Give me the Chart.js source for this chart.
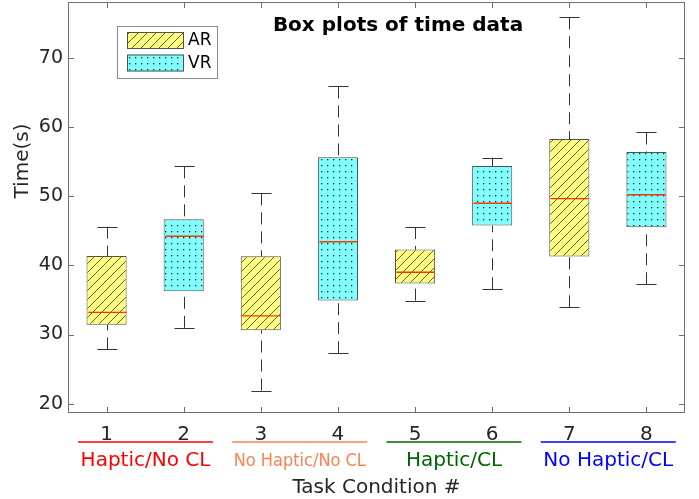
<!DOCTYPE html>
<html>
<head>
<meta charset="utf-8">
<script src="https://cdn.jsdelivr.net/npm/chart.js@4.4.0/dist/chart.umd.min.js"></script>
<style>
  body { margin: 0; background: #fff; }
  canvas { display: block; }
</style>
</head>
<body>
<canvas id="boxChart" width="699" height="499"></canvas>
<script>
// Task conditions 1..8 (odd = AR, even = VR)
const categories = ["1", "2", "3", "4", "5", "6", "7", "8"];
const lowerWhisker = [27.85, 30.97, 21.9, 27.3, 34.9, 36.55, 33.95, 37.27];
const q1 = [31.4, 36.26, 30.63, 34.9, 37.37, 45.74, 41.27, 45.5];
const medians = [33.2, 44.2, 32.7, 43.4, 39.0, 48.96, 49.64, 50.2];
const q3 = [41.36, 46.65, 41.3, 55.6, 42.28, 54.34, 58.24, 56.36];
const upperWhisker = [45.6, 54.3, 50.4, 65.85, 45.54, 55.56, 75.85, 59.2];
const yTicks = [20, 30, 40, 50, 60, 70];
const groupLabels = ["Haptic/No CL", "No Haptic/No CL", "Haptic/CL", "No Haptic/CL"];
const groupColors = ["#ff0000", "#ff7f50", "#006400", "#0000ff"];

const canvas = document.querySelector("#boxChart");
const ctx = canvas.getContext("2d");
const textColor = "#262626";
const frameColor = "#6e6e6e";
const edgeColor = "#505050";

// fill patterns: hatched yellow for AR, dotted cyan for VR
const makeHatch = () => {
  const c = document.createElement("canvas");
  c.width = 9;
  c.height = 9;
  const g = c.getContext("2d");
  g.fillStyle = "#ffff80";
  g.fillRect(0, 0, 9, 9);
  g.strokeStyle = "#4a4a4a";
  g.lineWidth = 0.9;
  g.beginPath();
  g.moveTo(-2, 11);
  g.lineTo(11, -2);
  g.moveTo(-2, 2);
  g.lineTo(2, -2);
  g.moveTo(7, 11);
  g.lineTo(11, 7);
  g.stroke();
  return ctx.createPattern(c, "repeat");
};

const makeDots = () => {
  const c = document.createElement("canvas");
  c.width = 6;
  c.height = 6;
  const g = c.getContext("2d");
  g.fillStyle = "#80ffff";
  g.fillRect(0, 0, 6, 6);
  g.fillStyle = "#1e1e1e";
  g.fillRect(3, 3, 1.3, 1.3);
  return ctx.createPattern(c, "repeat");
};

const hatch = makeHatch();
const dots = makeDots();

const arData = categories.map((c, i) => (i % 2 === 0 ? [q1[i], q3[i]] : null));
const vrData = categories.map((c, i) => (i % 2 === 1 ? [q1[i], q3[i]] : null));

// whiskers, caps and medians on top of the boxes
const boxExtras = {
  id: "boxExtras",
  afterDatasetsDraw: (chart) => {
    const x = chart.scales.x;
    const y = chart.scales.y;
    const g = chart.ctx;
    g.save();
    categories.forEach((c, i) => {
      const meta = chart.getDatasetMeta(i % 2);
      const bar = meta.data[i];
      const cx = Math.round(x.getPixelForValue(i)) + 0.5;
      const half = bar.width / 2;
      const capHalf = bar.width / 4;

      g.setLineDash([12, 7]);
      g.strokeStyle = "#333";
      g.lineWidth = 1;
      g.beginPath();
      g.moveTo(cx, y.getPixelForValue(upperWhisker[i]));
      g.lineTo(cx, y.getPixelForValue(q3[i]));
      g.stroke();
      g.beginPath();
      g.moveTo(cx, y.getPixelForValue(lowerWhisker[i]));
      g.lineTo(cx, y.getPixelForValue(q1[i]));
      g.stroke();

      g.setLineDash([]);
      g.beginPath();
      [upperWhisker[i], lowerWhisker[i]].forEach((v) => {
        const py = Math.round(y.getPixelForValue(v)) + 0.5;
        g.moveTo(cx - capHalf, py);
        g.lineTo(cx + capHalf, py);
      });
      g.stroke();

      // median line
      g.strokeStyle = "#ff3300";
      g.lineWidth = 1.4;
      g.beginPath();
      const my = y.getPixelForValue(medians[i]);
      g.moveTo(cx - half + 1, my);
      g.lineTo(cx + half - 1, my);
      g.stroke();
    });
    g.restore();
  },
};

// frame, inward ticks, title, legend, group labels and axis titles
const decorations = {
  id: "decorations",
  afterDraw: (chart) => {
    const { left, right, top, bottom } = chart.chartArea;
    const x = chart.scales.x;
    const y = chart.scales.y;
    const g = chart.ctx;
    g.save();

    g.strokeStyle = frameColor;
    g.lineWidth = 1;
    g.strokeRect(left + 0.5, top + 0.5, right - left - 1, bottom - top - 1);
    g.beginPath();
    categories.forEach((c, i) => {
      const px = Math.round(x.getPixelForValue(i)) + 0.5;
      g.moveTo(px, bottom);
      g.lineTo(px, bottom - 6);
      g.moveTo(px, top);
      g.lineTo(px, top + 6);
    });
    yTicks.forEach((v) => {
      const py = Math.round(y.getPixelForValue(v)) + 0.5;
      g.moveTo(left, py);
      g.lineTo(left + 6, py);
      g.moveTo(right, py);
      g.lineTo(right - 6, py);
    });
    g.stroke();

    // title
    g.fillStyle = "#000";
    g.font = "bold 20px 'DejaVu Sans'";
    g.textAlign = "center";
    g.textBaseline = "alphabetic";
    g.fillText("Box plots of time data", left + 330, 31);

    // legend
    const lx = left + 49;
    const ly = 26;
    g.fillStyle = "#fff";
    g.fillRect(lx, ly, 100, 52);
    g.strokeStyle = "#8a8a8a";
    g.strokeRect(lx + 0.5, ly + 0.5, 100, 52);
    [["AR", hatch], ["VR", dots]].forEach(([name, fill], k) => {
      const sy = ly + 6 + k * 22.5;
      g.fillStyle = fill;
      g.fillRect(lx + 10, sy, 57, 17);
      g.strokeStyle = edgeColor;
      g.strokeRect(lx + 10.5, sy + 0.5, 56, 16);
      g.fillStyle = "#000";
      g.font = "17px 'DejaVu Sans'";
      g.textAlign = "left";
      g.textBaseline = "middle";
      g.fillText(name, lx + 71, sy + 9);
    });

    // condition groups under the x ticks
    const step = x.getPixelForValue(1) - x.getPixelForValue(0);
    groupLabels.forEach((label, k) => {
      const x0 = x.getPixelForValue(k * 2) - 0.37 * step;
      const x1 = x.getPixelForValue(k * 2 + 1) + 0.38 * step;
      g.strokeStyle = groupColors[k];
      g.lineWidth = 1.5;
      g.beginPath();
      g.moveTo(x0, 442);
      g.lineTo(x1, 442);
      g.stroke();
      g.fillStyle = groupColors[k];
      // the second label is set narrower in the original
      g.font = k === 1 ? "18px 'DejaVu Sans Condensed', 'DejaVu Sans'" : "20px 'DejaVu Sans'";
      g.textAlign = "center";
      g.textBaseline = "alphabetic";
      g.fillText(label, (x0 + x1) / 2, 466);
    });

    g.fillStyle = textColor;
    g.font = "20px 'DejaVu Sans'";
    g.fillText("Task Condition #", (left + right) / 2, 493);

    g.translate(28, 161);
    g.rotate(-Math.PI / 2);
    g.fillText("Time(s)", 0, 0);
    g.restore();
  },
};

new Chart(ctx, {
  type: "bar",
  data: {
    labels: categories,
    datasets: [
      {
        label: "AR",
        data: arData,
        backgroundColor: hatch,
        borderColor: edgeColor,
        borderWidth: 1,
        borderSkipped: false,
        grouped: false,
      },
      {
        label: "VR",
        data: vrData,
        backgroundColor: dots,
        borderColor: edgeColor,
        borderWidth: 1,
        borderSkipped: false,
        grouped: false,
      },
    ],
  },
  options: {
    responsive: false,
    animation: false,
    layout: { autoPadding: false, padding: { top: 2, right: 14, left: 0, bottom: 0 } },
    datasets: { bar: { categoryPercentage: 1, barPercentage: 0.52 } },
    plugins: { legend: { display: false }, tooltip: { enabled: false } },
    scales: {
      x: {
        type: "category",
        offset: true,
        grid: { display: false, drawTicks: false },
        border: { display: false },
        ticks: {
          color: textColor,
          font: { family: "DejaVu Sans", size: 20 },
          padding: 10,
          maxRotation: 0,
        },
        afterFit: (scale) => {
          scale.height = 86;
          scale.paddingLeft = 0;
          scale.paddingRight = 0;
        },
      },
      y: {
        min: 18.66,
        max: 78.05,
        grid: { display: false, drawTicks: false },
        border: { display: false },
        ticks: {
          color: textColor,
          font: { family: "DejaVu Sans", size: 19 },
          padding: 5,
        },
        afterBuildTicks: (scale) => {
          scale.ticks = yTicks.map((v) => ({ value: v }));
        },
        afterFit: (scale) => {
          scale.width = 68;
          scale.paddingTop = 0;
          scale.paddingBottom = 0;
        },
      },
    },
  },
  plugins: [boxExtras, decorations],
});
</script>
</body>
</html>
